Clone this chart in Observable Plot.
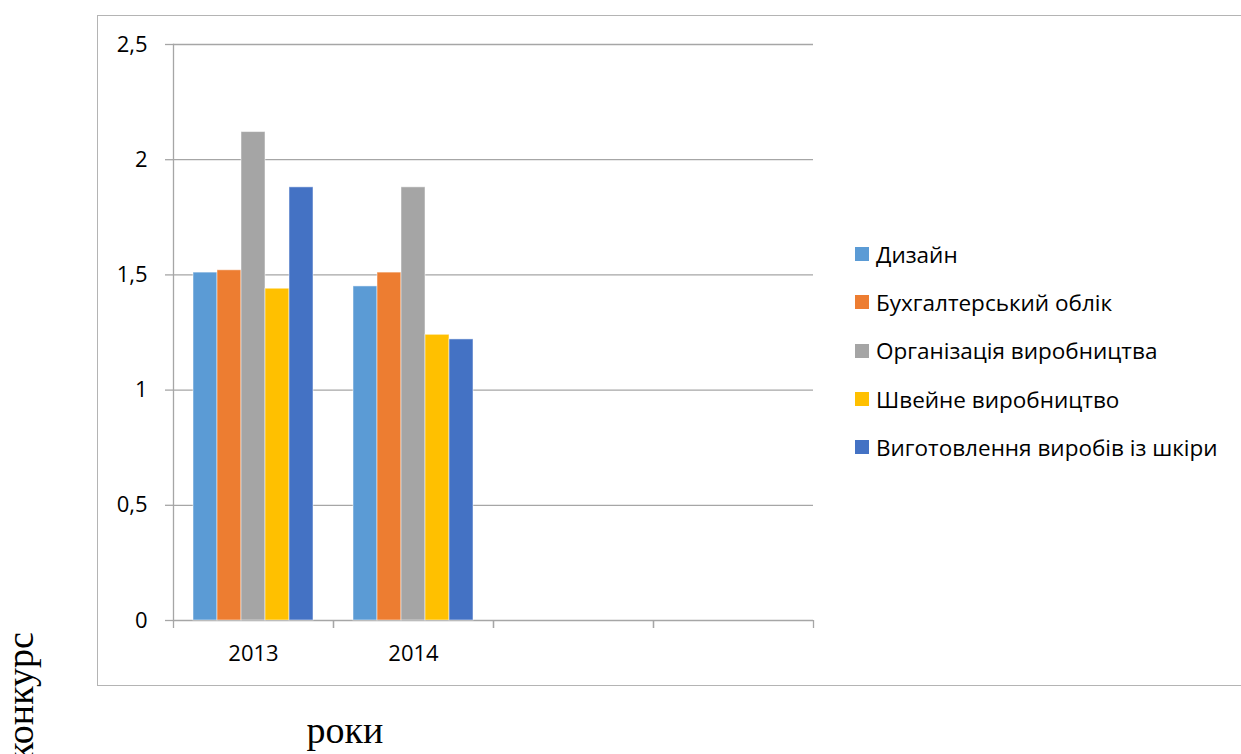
<!DOCTYPE html>
<html>
<head>
<meta charset="utf-8">
<script src="https://cdn.jsdelivr.net/npm/d3@7"></script>
<script src="https://cdn.jsdelivr.net/npm/@observablehq/plot@0.6"></script>
<style>
  html, body { margin: 0; padding: 0; background: #fff; }
  #wrap { position: relative; width: 1241px; height: 754px; overflow: hidden; font-family: "Open Sans", sans-serif; }
  #box { position: absolute; left: 97px; top: 15px; width: 1200px; height: 671px; border: 1.5px solid #b4b4b4; box-sizing: border-box; }
  #chart { position: absolute; left: 0; top: 0; }
  #legend { position: absolute; left: 855px; top: 230px; }
  .row { height: 48.3px; display: flex; align-items: center; font-size: 22.5px; color: #000; white-space: nowrap; }
  .sw { width: 14px; height: 14px; margin-right: 7px; flex: none; }
  #titles { position: absolute; left: 0; top: 0; }
</style>
</head>
<body>
<div id="wrap">
  <div id="box"></div>
  <div id="chart"></div>
  <div id="legend"></div>
  <svg id="titles" width="1241" height="754"></svg>
</div>
<script>
// ---- data ----
const categories = ["2013", "2014", " ", "  "]; // two empty categories as in the original axis
const series = ["Дизайн", "Бухгалтерський облік", "Організація виробництва", "Швейне виробництво", "Виготовлення виробів із шкіри"];
const colors = ["#5b9bd5", "#ed7d31", "#a5a5a5", "#ffc000", "#4472c4"];
const values2013 = [1.51, 1.52, 2.12, 1.44, 1.88];
const values2014 = [1.45, 1.51, 1.88, 1.24, 1.22];
const valuesEmpty = [null, null, null, null, null];
const yTicks = [0, 0.5, 1, 1.5, 2, 2.5];
const xTitle = "роки";
const yTitle = "конкурс";

const valuesByCategory = [values2013, values2014, valuesEmpty, valuesEmpty];
const data = categories.flatMap((c, i) => series.map((s, j) => ({cat: c, series: s, value: valuesByCategory[i][j]})));

// ---- layout ----
const W = 1241, H = 754;
const mL = 173, mR = 428, mT = 44, mB = 134;
const band = (W - mL - mR) / categories.length;
const gridColor = "#a6a6a6";

const chart = Plot.plot({
  width: W, height: H,
  marginLeft: mL, marginRight: mR, marginTop: mT, marginBottom: mB,
  style: {fontFamily: "Open Sans", fontSize: "22px", background: "transparent", overflow: "visible"},
  fx: {domain: categories, padding: 0, axis: null, label: null},
  x: {domain: series, paddingInner: 0, paddingOuter: 0.75, axis: null},
  y: {domain: [0, 2.5], axis: null},
  color: {domain: series, range: colors},
  marks: [
    Plot.gridY(yTicks, {stroke: gridColor, strokeOpacity: 1, strokeWidth: 1.3}),
    Plot.axisY(yTicks, {tickSize: 8, tickPadding: 18, stroke: gridColor, strokeWidth: 1.3, fill: "#000",
      tickFormat: d => String(d).replace(".", ","), label: null, fontSize: 22}),
    Plot.frame({anchor: "left", facetAnchor: "left", stroke: gridColor, strokeWidth: 1.3}),
    Plot.barY(data, {fx: "cat", x: "series", y: "value", fill: "series", stroke: "#fff", strokeOpacity: 0.5, strokeWidth: 1}),
    Plot.axisFx({anchor: "bottom", tickSize: 8, dx: -band / 2, tickFormat: () => "", stroke: gridColor, strokeWidth: 1.3, label: null}),
    Plot.axisFx([categories[categories.length - 1]], {anchor: "bottom", tickSize: 8, dx: band / 2, tickFormat: () => "", stroke: gridColor, strokeWidth: 1.3, label: null}),
    Plot.axisFx({anchor: "bottom", tickSize: 0, tickPadding: 25, label: null, fill: "#000", fontSize: 22})
  ]
});
document.getElementById("chart").appendChild(chart);

// ---- legend ----
const legend = d3.select("#legend");
series.forEach((s, i) => {
  const row = legend.append("div").attr("class", "row");
  row.append("div").attr("class", "sw").style("background", colors[i]);
  row.append("span").text(s);
});

// ---- outer titles ----
const t = d3.select("#titles");
t.append("text").attr("x", 345).attr("y", 743).attr("text-anchor", "middle")
  .style("font-family", "'Liberation Serif', serif").style("font-size", "38px").text(xTitle);
t.append("text").attr("transform", "translate(33,632) rotate(-90)").attr("text-anchor", "end")
  .style("font-family", "'Liberation Serif', serif").style("font-size", "38px").text(yTitle);
</script>
</body>
</html>
